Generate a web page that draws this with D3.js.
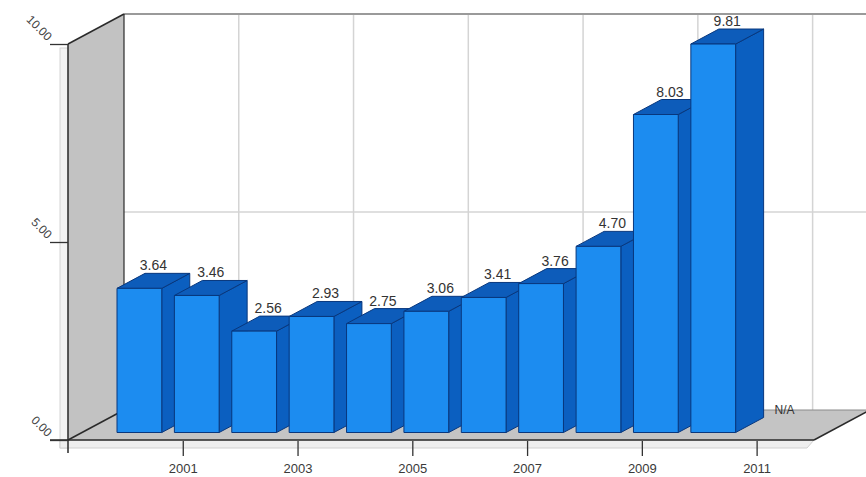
<!DOCTYPE html>
<html><head><meta charset="utf-8">
<script src="https://cdn.jsdelivr.net/npm/d3@7"></script>
<style>body{margin:0;background:#fff}svg{display:block}</style>
</head><body>
<script>
const years = [2000,2001,2002,2003,2004,2005,2006,2007,2008,2009,2010];
const values = [3.64,3.46,2.56,2.93,2.75,3.06,3.41,3.76,4.70,8.03,9.81];
const missingYears = [2011];
const missingLabel = "N/A";
const xTickValues = [2001,2003,2005,2007,2009,2011];
const yTickValues = [0,5,10];

const W = 866, H = 477;
const svg = d3.select("body").append("svg").attr("width", W).attr("height", H);

const x = d3.scaleLinear().domain([1999, 2012]).range([68, 814]);
const y = d3.scaleLinear().domain([0, 10]).range([440, 44]);
const DX = 56, DY = -30; // full depth vector
const dep = z => [z*DX, z*DY];
const bandW = x(2001) - x(2000);
const barW = bandW * 0.78;
const z0 = 0.25, z1 = 0.75;
const FONT = "Liberation Sans, Arial, sans-serif";

const [x0, x1] = x.range();
const yb = y(0), yt = y(10);

// back wall
svg.append("rect").attr("x", x0+DX).attr("y", yt+DY).attr("width", W).attr("height", yb-yt)
  .attr("fill", "#fff");
// back grid
svg.append("g").selectAll("line").data(xTickValues).join("line")
  .attr("x1", d => x(d)+DX).attr("x2", d => x(d)+DX)
  .attr("y1", yt+DY).attr("y2", yb+DY)
  .attr("stroke", "#d4d4d4").attr("stroke-width", 1.5);
svg.append("g").selectAll("line").data(yTickValues.filter(d => d>0 && d<10)).join("line")
  .attr("x1", x0+DX).attr("x2", W).attr("y1", d => y(d)+DY).attr("y2", d => y(d)+DY)
  .attr("stroke", "#d4d4d4").attr("stroke-width", 1.5);
svg.append("line").attr("x1", x0+DX).attr("x2", W).attr("y1", yt+DY).attr("y2", yt+DY)
  .attr("stroke", "#9a9a9a").attr("stroke-width", 2);

// wall & floor thickness (light slabs)
svg.append("rect").attr("x", x0-8).attr("y", yt+4).attr("width", 8).attr("height", yb-yt+4)
  .attr("fill", "#f3f3f3").attr("stroke", "#d6d6d6").attr("stroke-width", 1);
svg.append("path").attr("d", `M${x0-8},${yb}L${x1},${yb}L${x1-7},${yb+8}L${x0-8},${yb+8}Z`)
  .attr("fill", "#eeeeee").attr("stroke", "#d0d0d0").attr("stroke-width", 1);

// left wall
svg.append("path").attr("d", `M${x0},${yt}L${x0+DX},${yt+DY}L${x0+DX},${yb+DY}L${x0},${yb}Z`)
  .attr("fill", "#c2c2c2");
// floor
svg.append("path").attr("d", `M${x0},${yb}L${x0+DX},${yb+DY}L${x1+DX},${yb+DY}L${x1},${yb}Z`)
  .attr("fill", "#c4c4c4");
svg.append("line").attr("x1", x0+DX).attr("x2", x1+DX).attr("y1", yb+DY).attr("y2", yb+DY)
  .attr("stroke", "#8a8a8a").attr("stroke-width", 1);
// edges
const edge = (a,b,c,d,w) => svg.append("line").attr("x1",a).attr("y1",b).attr("x2",c).attr("y2",d)
  .attr("stroke","#2a2a2a").attr("stroke-width",w||1.5);
edge(x0, yt, x0+DX, yt+DY);
edge(x0+DX, yt+DY, x0+DX, yb+DY, 1.2);
edge(x0, yb, x0+DX, yb+DY);
edge(x1, yb, x1+DX, yb+DY);

// bars
const bars = svg.append("g");
years.forEach((yr, i) => {
  const v = values[i];
  const [ox, oy] = dep(z0);
  const [bx, by] = dep(z1 - z0);
  const L = x(yr) - barW/2 + ox, R = x(yr) + barW/2 + ox;
  const T = y(v) + oy, B = yb + oy;
  const g = bars.append("g").attr("stroke", "#08377d").attr("stroke-width", 1).attr("stroke-linejoin", "round");
  g.append("path").attr("d", `M${R},${T}L${R+bx},${T+by}L${R+bx},${B+by}L${R},${B}Z`).attr("fill", "#0b5fc0");
  g.append("path").attr("d", `M${L},${T}L${L+bx},${T+by}L${R+bx},${T+by}L${R},${T}Z`).attr("fill", "#0d5cba");
  g.append("rect").attr("x", L).attr("y", T).attr("width", R-L).attr("height", B-T).attr("fill", "#1c8cf0");
});

// value labels
svg.append("g").selectAll("text").data(years).join("text")
  .attr("x", (d) => x(d) + dep(0.5)[0])
  .attr("y", (d, i) => y(values[i]) + dep(z1)[1] - 3)
  .attr("text-anchor", "middle")
  .attr("font-family", FONT).attr("font-size", 14)
  .attr("fill", "#333").text((d, i) => values[i].toFixed(2));
svg.append("g").selectAll("text").data(missingYears).join("text")
  .attr("x", d => x(d) + dep(0.5)[0])
  .attr("y", 414)
  .attr("text-anchor", "middle")
  .attr("font-family", FONT).attr("font-size", 12)
  .attr("fill", "#333").text(missingLabel);

// front floor line
svg.append("line").attr("x1", x0-18).attr("x2", x1).attr("y1", yb).attr("y2", yb)
  .attr("stroke", "#2a2a2a").attr("stroke-width", 1.5);
svg.append("line").attr("x1", x0).attr("x2", x0).attr("y1", yt).attr("y2", yb+13)
  .attr("stroke", "#2a2a2a").attr("stroke-width", 1.5);

// x axis
const xAxis = svg.append("g").attr("transform", `translate(0,${yb+1})`)
  .call(d3.axisBottom(x).tickValues(xTickValues).tickFormat(d3.format("d")).tickSize(15).tickPadding(8));
xAxis.select(".domain").remove();
xAxis.selectAll(".tick line").attr("stroke", "#333").attr("stroke-width", 1.3);
xAxis.selectAll("text").attr("font-family", FONT).attr("font-size", 13).attr("fill", "#3a3a3a");

// y axis
const yAxis = svg.append("g").attr("transform", `translate(${x0},0)`)
  .call(d3.axisLeft(y).tickValues(yTickValues).tickFormat(d3.format(".2f")).tickSize(18));
yAxis.select(".domain").remove();
yAxis.selectAll(".tick line").attr("stroke", "#333").attr("stroke-width", 1.3);
yAxis.selectAll("text").attr("x", 0).attr("dy", 0).attr("text-anchor", "end")
  .attr("transform", "translate(-21,-3) rotate(45)")
  .attr("font-family", FONT).attr("font-size", 12).attr("fill", "#444");
</script>
</body></html>
